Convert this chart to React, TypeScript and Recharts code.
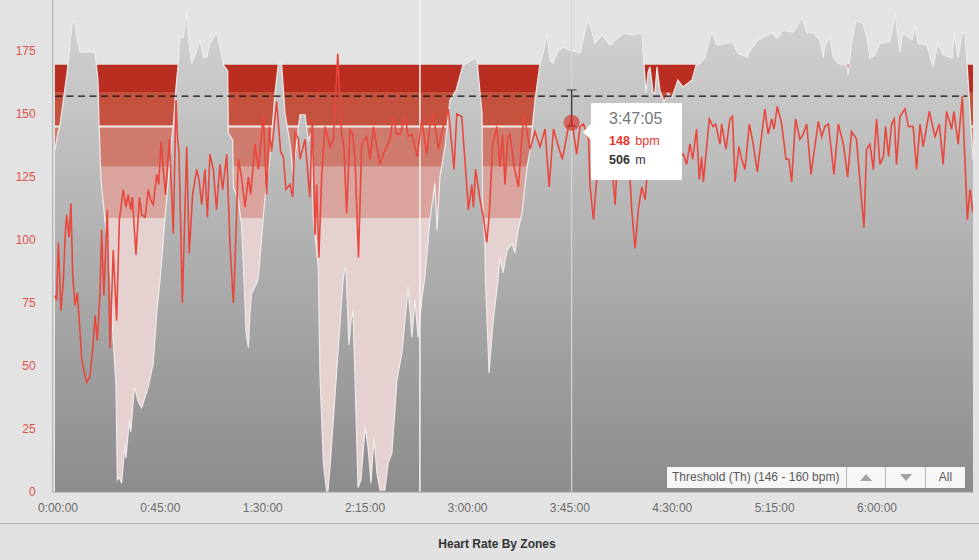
import { ComposedChart, Area, Line, XAxis, YAxis, ReferenceArea, ReferenceLine, ReferenceDot } from 'recharts';

const timeTicks = [0, 45, 90, 135, 180, 225, 270, 315, 360];
const timeLabels = ['0:00:00', '0:45:00', '1:30:00', '2:15:00', '3:00:00', '3:45:00', '4:30:00', '5:15:00', '6:00:00'];
const bpmTicks = [0, 25, 50, 75, 100, 125, 150, 175];

// zone bounds in bpm, top to bottom
const zoneTops = [169.5, 158.7, 145, 129, 108.7];
const zoneBottoms = [158.7, 145, 129, 108.7, 0];
const zoneColors = ['#b92e21', '#c4523f', '#ce7b6e', '#d9a49d', '#e5d2d0'];

const elevationMinutes = [
  0, 1.3, 2.2, 5.3, 7.5, 8.8, 9.7, 11, 17.6, 18.9, 19.3, 20.2, 21.1, 22.4, 24.6, 25.5, 26.8, 27.4, 28.3, 29.3,
  30.8, 31.2, 32.7, 33.3, 34.9, 36.6, 38.1, 41, 43.2, 44.7, 46.2, 48.4, 51.3, 52, 53.2, 54.2, 54.9, 56.4, 57.9, 58.9,
  60.1, 62.3, 63.7, 65.2, 66.7, 68.1, 71.1, 72.5, 74, 75.9, 76.2, 78.1, 78.4, 80.6, 82.1, 83.2, 83.5, 84, 85, 85.7,
  86.4, 88.7, 89.4, 92.3, 94.5, 96.7, 98.2, 99.6, 101.1, 103.3, 104.6, 107.7, 109.9, 111.3, 112.8, 113.5, 115.7, 115.8, 116.5, 118,
  119.4, 120, 120.9, 126.6, 127.5, 127.9, 129.2, 130.1, 131, 131.9, 133.2, 134.5, 136.3, 137.6, 138.9, 140.2, 141.5, 142.9, 145, 146.4,
  148.1, 150.3, 152.5, 155.2, 156.9, 158.2, 159.6, 161.3, 162.6, 164.8, 167, 167.9, 169.2, 171.4, 173.6, 176.3, 179.3, 183.3, 185.5, 185.9,
  187.7, 187.9, 189, 189.2, 190.8, 192.5, 194.7, 195.6, 196.9, 198.7, 200.9, 202.2, 203.5, 205.3, 207.5, 208.8, 211, 213.2, 214.5, 216.3,
  217.6, 218.9, 221.1, 223.3, 226.4, 230.8, 234.3, 237.4, 240.4, 244, 249.7, 253.6, 258, 258.9, 259.8, 260.7, 261.5, 262.9, 263.7, 264.6,
  265.9, 267.7, 269.5, 271.2, 273.8, 276, 280, 281.8, 283.5, 285.7, 287.9, 288.8, 291, 294.5, 297.6, 300.2, 304.2, 305.5, 309, 311.2,
  315.2, 317.4, 320, 324.4, 328.4, 330.5, 333.2, 336.3, 337.6, 338.5, 340.7, 342, 344.2, 348.1, 348.6, 350.3, 352.1, 355.2, 356.9, 358.2,
  360.4, 362.6, 367, 369.2, 371.4, 372.7, 376.7, 378, 379.3, 383.3, 385.9, 388.1, 390.3, 394.3, 395.2, 396.9, 398.7, 400, 400.9, 402.6,
  403.5,
];
const elevationMeters = [
  393, 413, 422, 482, 539, 541, 520, 506, 506, 474, 428, 359, 336, 301, 244, 178, 125, 14, 17, 10,
  56, 39, 83, 69, 121, 104, 97, 121, 148, 206, 244, 316, 405, 422, 466, 493, 523, 523, 551, 516,
  493, 508, 520, 500, 500, 516, 529, 512, 491, 485, 413, 405, 351, 336, 305, 236, 221, 183, 166, 206,
  229, 240, 247, 339, 385, 459, 493, 493, 436, 401, 367, 434, 434, 405, 413, 316, 259, 244, 132, 33,
  0, 2, 29, 244, 258, 258, 169, 198, 209, 129, 5, 14, 75, 52, 10, 63, 22, 2, 2, 33,
  45, 129, 160, 236, 178, 221, 178, 224, 247, 313, 355, 301, 362, 397, 451, 462, 491, 497, 500, 485,
  436, 336, 282, 244, 137, 194, 244, 270, 252, 278, 286, 275, 301, 321, 374, 393, 451, 493, 505, 528,
  497, 493, 508, 512, 508, 505, 545, 516, 526, 514, 528, 526, 528, 491, 459, 483, 489, 459, 459, 489,
  462, 449, 459, 454, 474, 466, 474, 491, 493, 500, 523, 529, 514, 516, 518, 505, 500, 508, 520, 523,
  528, 522, 531, 529, 546, 528, 529, 520, 500, 514, 523, 500, 493, 491, 480, 520, 543, 539, 523, 499,
  503, 516, 518, 551, 506, 528, 520, 537, 516, 514, 489, 516, 503, 499, 529, 499, 528, 528, 493, 420,
  382,
];

const heartMinutes = [
  0, 0.7, 1.5, 2.6, 3.7, 4.4, 5.1, 6.2, 7, 7.8, 8.8, 9.8, 11, 11.7, 13.2, 13.9, 15.4, 16.8, 17.6, 18.6,
  19.8, 20.5, 21.5, 23, 24.2, 25.6, 27.1, 28.3, 30, 31.2, 32.2, 33.3, 34, 35.6, 37.1, 38.1, 39.6, 41, 42, 43.2,
  44.7, 45.6, 46.6, 47.6, 48.6, 49.5, 50.3, 52, 53.2, 53.9, 54.5, 56, 57.9, 59, 60.5, 62.3, 63.3, 64.5, 65.9, 67,
  68.1, 69.6, 71, 72.5, 73.7, 75.5, 76.9, 78.4, 79.1, 80.6, 82, 83.5, 85, 86, 87.9, 89.4, 91.6, 93, 94.2, 95.2,
  97.4, 99.2, 100.4, 101.5, 103.3, 104.5, 105.5, 107, 107.7, 109.9, 112, 113.1, 114.3, 115, 116, 117.2, 118.7, 120.9, 122.4, 124.3,
  126, 127, 128.2, 129.7, 130.9, 131.9, 133.4, 134.8, 137, 138.5, 140, 141.4, 142.9, 144.3, 145.8, 147.3, 148.7, 150.2, 151.7, 153.9,
  155.3, 156.8, 159.3, 161.2, 163.4, 164.9, 166.3, 168.5, 170.7, 172.9, 175.4, 176.6, 178.8, 180.7, 181.7, 183.2, 183.9, 184.9, 186.8, 188.3,
  189.8, 190.9, 192.4, 194.2, 195.6, 196.7, 197.8, 199, 200, 201.8, 203.7, 205.1, 206.2, 208.8, 211, 213.2, 215.4, 217.2, 219.1, 221.3,
  223, 225.7, 227.1, 229.3, 230.8, 232.3, 234.5, 235.2, 236.7, 237.8, 239.6, 241.8, 244, 246.2, 247.6, 249.8, 252, 253.5, 255, 256.4,
  257.9, 259.4, 260.8, 263, 265, 268, 271, 274, 276.2, 277.6, 279.1, 280.3, 282, 283.2, 284.2, 285, 287.6, 289.3, 290.4, 292.3,
  293, 294.9, 296.7, 297.8, 298.9, 300.6, 301.8, 303.3, 305.2, 306.9, 308.7, 312, 313.5, 315, 316, 317.5, 319.4, 321.3, 322.6, 323.8,
  325.5, 327.4, 328.9, 330.4, 332.3, 335.5, 337, 338.4, 339.9, 342.4, 344.3, 346.5, 348.4, 350.1, 352.3, 354.1, 355.6, 356.7, 358.2, 359.7,
  361.1, 362.6, 364.1, 365.1, 366.4, 367.7, 368.9, 369.9, 371.4, 373.6, 375.1, 377.2, 378.7, 380.2, 381.6, 384.3, 386.8, 388.7, 390.4, 391.9,
  394.1, 395.1, 397, 398.8, 400.3, 401, 402.2, 403.4,
];
const heartBpm = [
  78, 76, 99, 72, 84, 100, 110, 101, 114.5, 86, 74, 79, 64, 53, 46, 43.5, 46, 59, 70, 60,
  79, 104, 78, 112, 57, 96, 68, 108, 120, 113, 118, 112, 117, 94, 117, 110, 109, 120, 116, 114,
  126, 122, 139, 128, 118, 130, 140, 102.6, 155.5, 140, 135, 75, 137, 94.6, 118, 128, 124, 114, 128, 109,
  134, 128, 112, 130, 120, 134, 98.6, 75, 90, 132, 125, 113, 125, 118, 138, 128, 150, 118, 145, 135,
  155, 135, 133, 120, 122, 117, 143, 140, 132, 140, 117, 148, 102, 122, 93, 125, 145, 137, 140, 174,
  142, 137, 110.5, 143.6, 142, 132, 93, 138, 141, 132, 145, 137, 130, 134, 137, 140, 149, 142, 142, 149,
  141, 142, 133, 148, 134, 146, 150, 136, 145, 152, 128, 150, 149, 125, 112, 122, 113, 128, 116, 109,
  99, 110.5, 138, 145, 129, 142, 122, 141, 142, 129, 121, 140, 150, 136, 143, 137, 144, 121, 144, 137,
  132, 145, 148, 134, 145, 146, 140, 121, 108, 121, 138, 142, 138, 114, 140, 142, 137, 112, 96.6, 112,
  121, 116, 132, 138, 140, 130, 140, 133, 134, 130, 138, 132, 144, 124, 133, 123, 148, 145, 146, 138,
  146, 136, 148, 149, 123, 137, 132, 128, 146, 138, 127, 152, 142, 148, 144, 153, 146, 132, 132, 123,
  148, 140, 142, 146, 126, 147, 141, 145, 146, 126, 146, 138, 125, 143, 140, 120, 105, 136, 138, 128,
  148, 130, 133, 145, 133, 146, 148, 130, 149, 152, 145, 145, 128, 146, 137, 151, 141, 146, 130, 151,
  144, 151, 138, 157, 124, 108, 120, 111,
];

const elevationData = elevationMinutes.map((minute, i) => ({ minute, meters: elevationMeters[i] }));
const heartData = heartMinutes.map((minute, i) => ({ minute, bpm: heartBpm[i] }));

const cursorMinute = 227.08;
const font = '"Liberation Sans", Arial, sans-serif';

function TimeTick({ x, y, payload }: any) {
  return (
    <text x={x + 3} y={y + 12} textAnchor="middle" fontSize={12} fontFamily={font} fill="#6b6b6b">
      {timeLabels[timeTicks.indexOf(payload.value)]}
    </text>
  );
}

const arrowButton = { borderLeft: '1px solid #b5b5b5', boxSizing: 'border-box', display: 'flex', alignItems: 'center', justifyContent: 'center' } as const;

export default function App() {
  return (
    <div style={{ position: 'relative', width: 979, height: 560, background: '#e4e3e4', overflow: 'hidden', fontFamily: font }}>
      <style>{'body{margin:0}'}</style>
      <ComposedChart width={979} height={560} margin={{ top: 0, right: 6, bottom: 0, left: 0 }}>
        <defs>
          <linearGradient id="elevationFill" x1="0" y1="0" x2="0" y2="1">
            <stop offset="0%" stopColor="#d2d2d2" />
            <stop offset="100%" stopColor="#8c8c8c" />
          </linearGradient>
        </defs>
        <XAxis
          type="number"
          dataKey="minute"
          domain={[-1, 403.5]}
          ticks={timeTicks}
          tick={<TimeTick />}
          tickLine={false}
          stroke="#a59a9a"
          height={68}
          allowDataOverflow
        />
        <YAxis
          yAxisId="bpm"
          domain={[0, 195.2]}
          ticks={bpmTicks}
          width={52.7}
          tickLine={false}
          tickMargin={11}
          stroke="#a8a8a8"
          tick={{ fill: '#dd5349', fontSize: 12, fontFamily: font }}
          allowDataOverflow
        />
        <YAxis yAxisId="elev" orientation="right" domain={[0, 566]} width={0} tick={false} tickLine={false} stroke="#a8a8a8" />

        {zoneTops.map((top, i) => (
          <ReferenceArea key={i} yAxisId="bpm" x1={0} x2={403.5} y1={zoneBottoms[i]} y2={top} fill={zoneColors[i]} fillOpacity={1} stroke="none" />
        ))}
        <ReferenceArea yAxisId="bpm" x1={0} x2={403.5} y1={144.6} y2={145.4} fill="#f6efee" fillOpacity={1} stroke="none" />

        <Area yAxisId="elev" data={elevationData} dataKey="meters" type="linear" fill="url(#elevationFill)" fillOpacity={1} stroke="#efeaea" strokeWidth={1.2} dot={false} isAnimationActive={false} />

        <ReferenceLine yAxisId="bpm" segment={[{ x: 0, y: 157.1 }, { x: 401, y: 157.1 }]} stroke="#111" strokeWidth={1.3} strokeDasharray="7 4.5" />
        <ReferenceLine yAxisId="bpm" x={160.4} stroke="#f4f4f4" strokeWidth={1.5} />
        <ReferenceLine yAxisId="bpm" x={cursorMinute} stroke="#d6d6d6" strokeWidth={1.2} />

        <Line yAxisId="bpm" data={heartData} dataKey="bpm" type="linear" stroke="#e8473d" strokeWidth={1.6} dot={false} isAnimationActive={false} />

        <ReferenceDot yAxisId="bpm" x={cursorMinute} y={146.5} r={8} fill="#d9362b" fillOpacity={0.65} stroke="none" />
        <ReferenceLine yAxisId="bpm" segment={[{ x: cursorMinute, y: 145.2 }, { x: cursorMinute, y: 159.5 }]} stroke="#3a3a3a" strokeWidth={1.4} />
        <ReferenceLine yAxisId="bpm" segment={[{ x: cursorMinute - 2.2, y: 159.5 }, { x: cursorMinute + 2.2, y: 159.5 }]} stroke="#3a3a3a" strokeWidth={1} />
        <ReferenceLine yAxisId="bpm" segment={[{ x: cursorMinute - 2.2, y: 145.2 }, { x: cursorMinute + 2.2, y: 145.2 }]} stroke="#222" strokeWidth={1} />
      </ComposedChart>

      {/* hover label */}
      <div style={{ position: 'absolute', left: 583, top: 124, width: 0, height: 0, borderTop: '8px solid transparent', borderBottom: '8px solid transparent', borderRight: '8px solid #fff' }} />
      <div style={{ position: 'absolute', left: 591, top: 103, width: 91, height: 77, background: '#fff' }}>
        <div style={{ position: 'absolute', left: 18, top: 7, fontSize: 16, color: '#777', whiteSpace: 'nowrap' }}>3:47:05</div>
        <div style={{ position: 'absolute', left: 18, top: 31, fontSize: 12.5, color: '#e8352b', whiteSpace: 'nowrap' }}>
          <b>148</b> <span style={{ marginLeft: 2 }}>bpm</span>
        </div>
        <div style={{ position: 'absolute', left: 18, top: 50, fontSize: 12.5, color: '#333', whiteSpace: 'nowrap' }}>
          <b>506</b> <span style={{ marginLeft: 2 }}>m</span>
        </div>
      </div>

      {/* zone picker */}
      <div style={{ position: 'absolute', left: 667, top: 467, width: 298, height: 21, background: '#f6f6f6', display: 'flex', fontSize: 12, color: '#5a5a5a', lineHeight: '21px' }}>
        <div style={{ width: 179, paddingLeft: 5, boxSizing: 'border-box', whiteSpace: 'nowrap' }}>Threshold (Th) (146 - 160 bpm)</div>
        <div style={{ ...arrowButton, width: 39 }}>
          <div style={{ width: 0, height: 0, borderLeft: '6px solid transparent', borderRight: '6px solid transparent', borderBottom: '7px solid #a3a3a3' }} />
        </div>
        <div style={{ ...arrowButton, width: 40 }}>
          <div style={{ width: 0, height: 0, borderLeft: '6px solid transparent', borderRight: '6px solid transparent', borderTop: '7px solid #a3a3a3' }} />
        </div>
        <div style={{ width: 40, borderLeft: '1px solid #b5b5b5', boxSizing: 'border-box', textAlign: 'center' }}>All</div>
      </div>

      <div style={{ position: 'absolute', left: 0, top: 523, width: 979, height: 1, background: '#b2b2b2' }} />
      <div style={{ position: 'absolute', left: 0, top: 524, width: 979, height: 36, background: '#e1e1e1' }} />
      <div style={{ position: 'absolute', left: 0, width: 994, top: 537, textAlign: 'center', fontSize: 12, fontWeight: 'bold', color: '#333' }}>Heart Rate By Zones</div>
    </div>
  );
}
